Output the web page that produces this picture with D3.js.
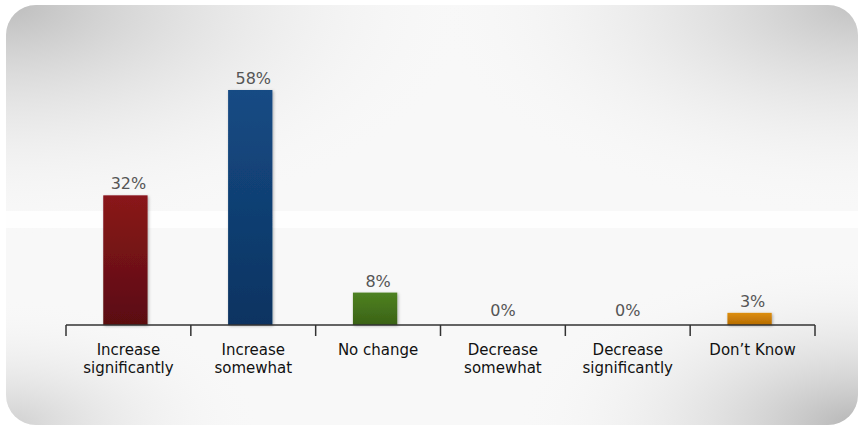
<!DOCTYPE html>
<html>
<head>
<meta charset="utf-8">
<script src="https://cdn.jsdelivr.net/npm/d3@7"></script>
<style>
  body { margin: 0; background: #fff; }
  svg { display: block; }
  .axis line { stroke: #333; }
  .cat { font-family: "DejaVu Sans", Verdana, sans-serif; font-size: 15px; fill: #111; }
  .val { font-family: "DejaVu Sans", Verdana, sans-serif; font-size: 16px; fill: #555; }
</style>
</head>
<body>
<div id="chart"></div>
<script>
const categories = ["Increase significantly", "Increase somewhat", "No change",
  "Decrease somewhat", "Decrease significantly", "Don\u2019t Know"];
const values = [32, 58, 8, 0, 0, 3];
const barTop = ["#8a151a", "#154b84", "#4f8221", "#dd8e0b", "#dd8e0b", "#dd8e0b"];
const barBottom = ["#5a0e11", "#0c3361", "#3a6216", "#b56b04", "#b56b04", "#b56b04"];

const W = 860, H = 426;
const margin = { top: 90, left: 66, right: 45, bottom: 101 };
const width = W - margin.left - margin.right,
  height = H - margin.top - margin.bottom;

const svg = d3.select("#chart").append("svg")
  .attr("width", W).attr("height", H);

const defs = svg.append("defs");

// panel background: light with grey shading in the corners
function corner(id, cx, cy, r, color) {
  const rg = defs.append("radialGradient").attr("id", id)
    .attr("cx", cx).attr("cy", cy).attr("r", r);
  rg.append("stop").attr("offset", 0).attr("stop-color", color).attr("stop-opacity", 1);
  rg.append("stop").attr("offset", 1).attr("stop-color", "#f8f8f8").attr("stop-opacity", 0);
}
corner("tl", 0, 0, 0.55, "#bdbdbd");
corner("tr", 1, 0, 0.5, "#c2c2c2");
corner("br", 1, 1, 0.4, "#b5b5b5");
corner("bl", 0, 1, 0.3, "#cfcfcf");

const panel = { x: 6, y: 5, w: 852, h: 420, r: 30 };
svg.append("rect").attr("x", panel.x).attr("y", panel.y)
  .attr("width", panel.w).attr("height", panel.h).attr("rx", panel.r)
  .attr("fill", "#f8f8f8");
["tl", "tr", "br", "bl"].forEach(id => {
  svg.append("rect").attr("x", panel.x).attr("y", panel.y)
    .attr("width", panel.w).attr("height", panel.h).attr("rx", panel.r)
    .attr("fill", "url(#" + id + ")");
});
// brighter strip across the middle
svg.append("rect").attr("x", panel.x).attr("y", 211)
  .attr("width", panel.w).attr("height", 17).attr("fill", "#ffffff").attr("opacity", 0.85);

categories.forEach((c, i) => {
  const g = defs.append("linearGradient").attr("id", "bar" + i)
    .attr("x1", 0).attr("y1", 0).attr("x2", 0).attr("y2", 1);
  g.append("stop").attr("offset", 0).attr("stop-color", barTop[i]);
  g.append("stop").attr("offset", 1).attr("stop-color", barBottom[i]);
});

const shadow = defs.append("filter").attr("id", "shadow")
  .attr("x", "-20%").attr("y", "-20%").attr("width", "140%").attr("height", "140%");
shadow.append("feDropShadow").attr("dx", 1).attr("dy", 1)
  .attr("stdDeviation", 1.5).attr("flood-color", "#000").attr("flood-opacity", 0.3);

const g = svg.append("g").attr("transform", "translate(" + margin.left + "," + margin.top + ")");

const x = d3.scaleBand().domain(categories).range([0, width]).padding(0);
const y = d3.scaleLinear().domain([0, 58]).range([height, 0]);
const barW = x.bandwidth() * 0.355;
const barShift = -3;

g.selectAll(".bar")
  .data(categories.map((c, i) => ({ c, v: values[i], i })).filter(d => d.v > 0))
  .enter().append("rect")
  .attr("class", "bar")
  .attr("x", d => x(d.c) + (x.bandwidth() - barW) / 2 + barShift)
  .attr("y", d => y(d.v))
  .attr("width", barW)
  .attr("height", d => height - y(d.v))
  .attr("fill", d => "url(#bar" + d.i + ")")
  .attr("filter", "url(#shadow)");

g.selectAll(".val")
  .data(categories.map((c, i) => ({ c, v: values[i] })))
  .enter().append("text")
  .attr("class", "val")
  .attr("x", d => x(d.c) + x.bandwidth() / 2)
  .attr("y", d => d.v > 0 ? y(d.v) - 6 : y(0) - 9)
  .attr("text-anchor", "middle")
  .text(d => d.v + "%");

// axis line with boundary ticks
const axis = g.append("g").attr("class", "axis").attr("transform", "translate(0," + height + ")");
axis.append("line").attr("x1", 0).attr("x2", width).attr("stroke-width", 1.5);
const bounds = categories.map(c => x(c)).concat([width]);
axis.selectAll(".tick").data(bounds).enter().append("line")
  .attr("x1", d => d).attr("x2", d => d)
  .attr("y1", 0).attr("y2", 11).attr("stroke-width", 1.5);

const labels = axis.selectAll(".cat").data(categories).enter().append("text")
  .attr("class", "cat")
  .attr("text-anchor", "middle")
  .attr("x", c => x(c) + x.bandwidth() / 2)
  .attr("y", 30);
labels.each(function (c) {
  const t = d3.select(this);
  const words = c === "No change" || c === "Don\u2019t Know" ? [c] : c.split(" ");
  words.forEach((w, k) => {
    t.append("tspan").attr("x", t.attr("x")).attr("dy", k === 0 ? 0 : 18).text(w);
  });
});
</script>
</body>
</html>
